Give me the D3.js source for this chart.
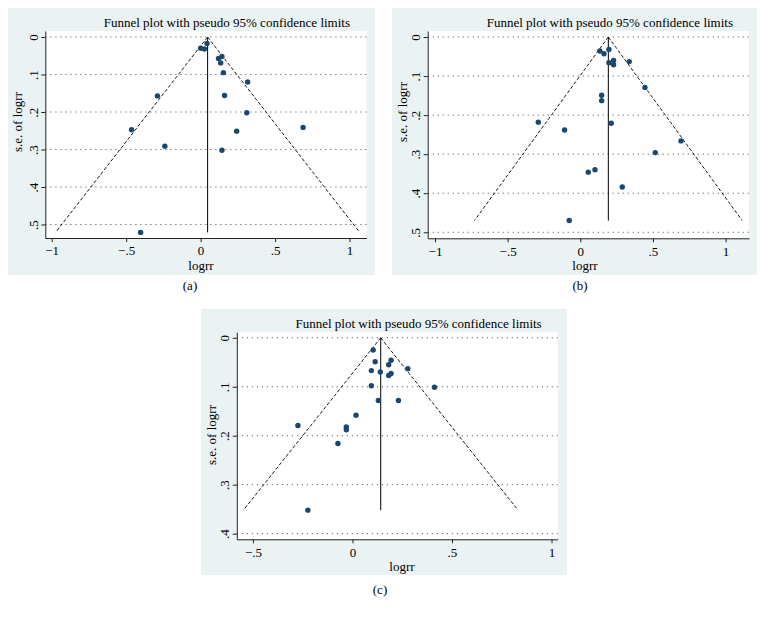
<!DOCTYPE html>
<html>
<head>
<meta charset="utf-8">
<script src="https://cdn.jsdelivr.net/npm/d3@7/dist/d3.min.js"></script>
<style>
  html, body { margin: 0; padding: 0; background: #ffffff; }
  svg { display: block; font-family: "Liberation Serif", "DejaVu Serif", serif; }
</style>
</head>
<body>
<svg id="chart" width="767" height="620"></svg>
<script>
// ---------------- DATA ----------------
const panelLabels = ["(a)", "(b)", "(c)"];
const titleText = "Funnel plot with pseudo 95% confidence limits";
const xLabelText = "logrr";
const yLabelText = "s.e. of logrr";

// panel (a)
const logrrA = [0.000, 0.025, 0.043, 0.120, 0.143, 0.135, 0.153, 0.316, -0.290, 0.161, 0.310, -0.464, 0.688, 0.242, -0.240, 0.143, -0.403];
const seA    = [0.030, 0.032, 0.017, 0.057, 0.052, 0.069, 0.095, 0.120, 0.157, 0.156, 0.202, 0.247, 0.241, 0.251, 0.291, 0.302, 0.521];
const pooledA = 0.047;
const xTicksA = [-1, -0.5, 0, 0.5, 1];
const yTicksA = [0, 0.1, 0.2, 0.3, 0.4, 0.5];

// panel (b)
const logrrB = [0.135, 0.163, 0.197, 0.197, 0.229, 0.229, 0.337, 0.445, 0.147, 0.147, -0.289, 0.213, -0.108, 0.693, 0.516, 0.101, 0.055, 0.289, -0.076];
const seB    = [0.036, 0.043, 0.032, 0.066, 0.060, 0.071, 0.063, 0.129, 0.149, 0.163, 0.218, 0.221, 0.238, 0.266, 0.296, 0.340, 0.346, 0.384, 0.470];
const pooledB = 0.193;
const xTicksB = [-1, -0.5, 0, 0.5, 1];
const yTicksB = [0, 0.1, 0.2, 0.3, 0.4, 0.5];

// panel (c)
const logrrC = [0.104, 0.114, 0.095, 0.140, 0.182, 0.194, 0.182, 0.194, 0.278, 0.095, 0.412, 0.130, 0.231, 0.018, -0.274, -0.031, -0.031, -0.073, -0.224];
const seC    = [0.025, 0.049, 0.067, 0.070, 0.055, 0.046, 0.077, 0.073, 0.063, 0.098, 0.101, 0.128, 0.128, 0.158, 0.179, 0.182, 0.188, 0.216, 0.352];
const pooledC = 0.142;
const xTicksC = [-0.5, 0, 0.5, 1];
const yTicksC = [0, 0.1, 0.2, 0.3, 0.4];

// ---------------- LAYOUT (positions / styles only) ----------------
const layout = [
  { bg: [8, 8, 367, 267], plot: { left: 45.3, right: 366.5, top: 31, bottom: 238 },
    xDom: [-1.043, 1.114], yDom: [-0.016, 0.536],
    titleEnd: 350, titleY: 27, yLabX: 18, yLabY: 122, xLabX: 201, xLabY: 270, capX: 190, capY: 290 },
  { bg: [392, 8, 365, 267], plot: { left: 427.7, right: 749, top: 31, bottom: 238.3 },
    xDom: [-1.050, 1.161], yDom: [-0.0154, 0.5154],
    titleEnd: 733, titleY: 27, yLabX: 403, yLabY: 112, xLabX: 585, xLabY: 270, capX: 580, capY: 290 },
  { bg: [201, 309, 366, 266], plot: { left: 236.8, right: 557.7, top: 332.3, bottom: 539.3 },
    xDom: [-0.581, 1.031], yDom: [-0.0112, 0.4115],
    titleEnd: 541.7, titleY: 328, yLabX: 212, yLabY: 435, xLabX: 402, xLabY: 571, capX: 380, capY: 594 }
];

const datasets = [
  { x: logrrA, se: seA, pooled: pooledA, xTicks: xTicksA, yTicks: yTicksA },
  { x: logrrB, se: seB, pooled: pooledB, xTicks: xTicksB, yTicks: yTicksB },
  { x: logrrC, se: seC, pooled: pooledC, xTicks: xTicksC, yTicks: yTicksC }
];

const BG = "#eaf2f3";
const NAVY = "#1a476f";
const FS = 13;

function stataFmt(v) {
  if (Math.abs(v) < 1e-9) return "0";
  let s = String(Math.round(v * 100) / 100);
  s = s.replace(/^(-?)0\./, "$1.");
  return s.replace("-", "\u2212");
}

const svg = d3.select("#chart");

datasets.forEach((ds, i) => {
  const L = layout[i];
  const g = svg.append("g");

  // background region
  g.append("rect").attr("x", L.bg[0]).attr("y", L.bg[1])
    .attr("width", L.bg[2]).attr("height", L.bg[3]).attr("fill", BG);

  // plot region
  const P = L.plot;
  g.append("rect").attr("x", P.left).attr("y", P.top)
    .attr("width", P.right - P.left).attr("height", P.bottom - P.top).attr("fill", "#ffffff");

  const x = d3.scaleLinear().domain(L.xDom).range([P.left, P.right]);
  const y = d3.scaleLinear().domain(L.yDom).range([P.top, P.bottom]);

  // gridlines
  g.append("g").selectAll("line").data(ds.yTicks).join("line")
    .attr("x1", P.left).attr("x2", P.right)
    .attr("y1", d => y(d)).attr("y2", d => y(d))
    .attr("stroke", "#555").attr("stroke-width", 0.9)
    .attr("stroke-dasharray", "1.2,3.8");

  // funnel lines
  const maxSe = d3.max(ds.se);
  const funnelL = [[ds.pooled, 0], [ds.pooled - 1.96 * maxSe, maxSe]];
  const funnelR = [[ds.pooled, 0], [ds.pooled + 1.96 * maxSe, maxSe]];
  const line = d3.line().x(d => x(d[0])).y(d => y(d[1]));
  [funnelL, funnelR].forEach(f => {
    g.append("path").attr("d", line(f)).attr("fill", "none")
      .attr("stroke", "#000").attr("stroke-width", 0.9)
      .attr("stroke-dasharray", "3.5,2");
  });
  g.append("path").attr("d", line([[ds.pooled, 0], [ds.pooled, maxSe]]))
    .attr("fill", "none").attr("stroke", "#000").attr("stroke-width", 1);

  // points
  g.append("g").selectAll("circle").data(ds.x.map((v, k) => [v, ds.se[k]])).join("circle")
    .attr("cx", d => x(d[0])).attr("cy", d => y(d[1])).attr("r", 2.7)
    .attr("fill", NAVY);

  // x axis
  const xAxis = g.append("g").attr("transform", `translate(0,${P.bottom})`)
    .call(d3.axisBottom(x).tickValues(ds.xTicks).tickFormat(stataFmt)
      .tickSize(4).tickSizeOuter(0).tickPadding(4));
  xAxis.selectAll("text").attr("font-size", FS).attr("font-family", "Liberation Serif").attr("fill", "#000");
  xAxis.selectAll("line, path").attr("stroke", "#222");

  // y axis
  const yAxis = g.append("g").attr("transform", `translate(${P.left},0)`)
    .call(d3.axisLeft(y).tickValues(ds.yTicks).tickFormat(stataFmt)
      .tickSize(4).tickSizeOuter(0));
  yAxis.selectAll("line, path").attr("stroke", "#222");
  yAxis.selectAll("text")
    .attr("font-size", FS).attr("font-family", "Liberation Serif").attr("fill", "#000")
    .attr("transform", "rotate(-90)")
    .attr("text-anchor", "middle")
    .attr("x", 0).attr("y", -7.5).attr("dy", 0);

  // title
  g.append("text").attr("x", L.titleEnd).attr("y", L.titleY)
    .attr("text-anchor", "end").attr("font-size", FS).text(titleText);

  // axis titles
  g.append("text").attr("x", L.xLabX).attr("y", L.xLabY)
    .attr("text-anchor", "middle").attr("font-size", FS).text(xLabelText);
  g.append("text")
    .attr("transform", `translate(${L.yLabX + 4},${L.yLabY}) rotate(-90)`)
    .attr("text-anchor", "middle").attr("font-size", FS).text(yLabelText);

  // caption
  g.append("text").attr("x", L.capX).attr("y", L.capY)
    .attr("text-anchor", "middle").attr("font-size", FS).text(panelLabels[i]);
});
</script>
</body>
</html>
